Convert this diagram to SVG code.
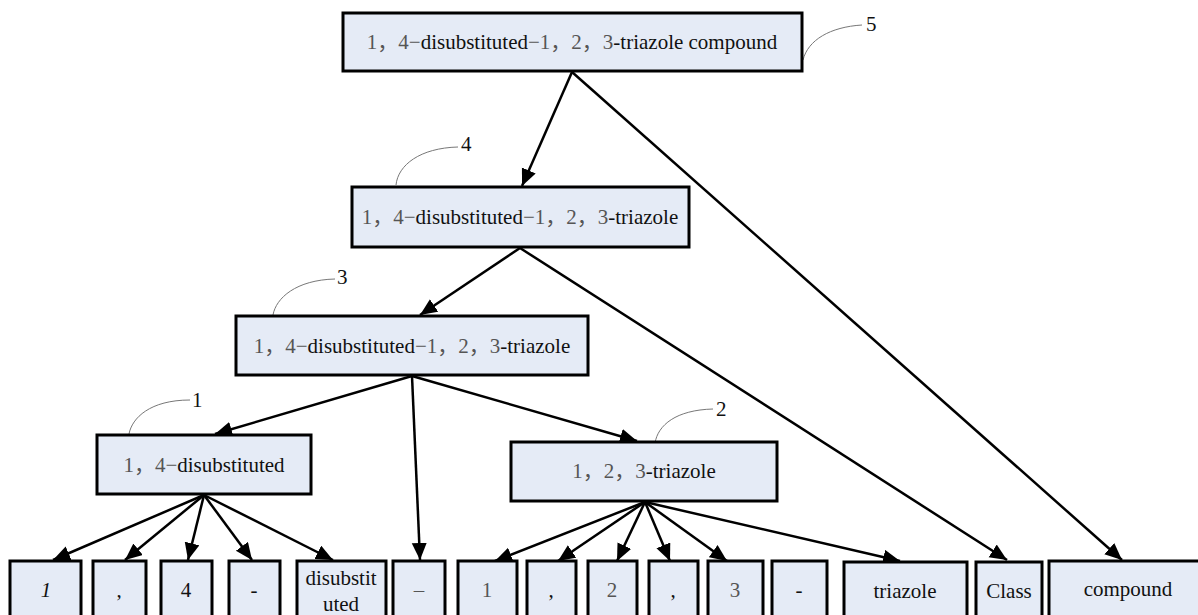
<svg xmlns="http://www.w3.org/2000/svg" width="1198" height="615" viewBox="0 0 1198 615">
<style>
.box{fill:#e5ebf6;stroke:#000;stroke-width:3}
.t{font-size:21px;fill:#111;text-anchor:middle}
.g{fill:#555}
.lbl{font-size:21px;fill:#111}
.lead{fill:none;stroke:#777;stroke-width:1}
.c{stroke:#000;stroke-width:2.5;fill:none;marker-end:url(#ah)}
</style>
<defs>
<marker id="ah" markerUnits="userSpaceOnUse" markerWidth="18" markerHeight="16" refX="17" refY="7.5" orient="auto">
<path d="M0,0 L17,7.5 L0,15 z" fill="#000"/>
</marker>
</defs>
<rect width="1198" height="615" fill="#fff"/>

<g id="connectors">
<line class="c" x1="572" y1="72" x2="522" y2="186"/>
<line class="c" x1="572" y1="72" x2="1122" y2="560"/>
<line class="c" x1="520" y1="248" x2="420" y2="315"/>
<line class="c" x1="520" y1="248" x2="1007" y2="560"/>
<line class="c" x1="412" y1="376" x2="215" y2="434"/>
<line class="c" x1="412" y1="376" x2="420" y2="560"/>
<line class="c" x1="412" y1="376" x2="637" y2="441"/>
<line class="c" x1="204" y1="495" x2="53" y2="560"/>
<line class="c" x1="204" y1="495" x2="125" y2="560"/>
<line class="c" x1="204" y1="495" x2="188" y2="560"/>
<line class="c" x1="204" y1="495" x2="252" y2="560"/>
<line class="c" x1="204" y1="495" x2="333" y2="560"/>
<line class="c" x1="645" y1="502" x2="495" y2="561"/>
<line class="c" x1="645" y1="502" x2="558" y2="561"/>
<line class="c" x1="645" y1="502" x2="617" y2="561"/>
<line class="c" x1="645" y1="502" x2="670" y2="561"/>
<line class="c" x1="645" y1="502" x2="727" y2="561"/>
<line class="c" x1="645" y1="502" x2="900" y2="561"/>
</g>

<g font-family="'Liberation Serif', 'Times New Roman', 'DejaVu Serif', 'Noto Sans CJK SC', serif">
<g id="leaders">
<path class="lead" d="M803 60 C808 40,830 27,862 25"/>
<path class="lead" d="M396 185 C398 165,420 148,458 147"/>
<path class="lead" d="M273 315 C276 298,296 280,335 279"/>
<path class="lead" d="M129 434 C132 418,150 400,190 400"/>
<path class="lead" d="M655 443 C658 425,676 410,713 409"/>
<text class="lbl" x="866" y="31">5</text>
<text class="lbl" x="461" y="151">4</text>
<text class="lbl" x="337" y="284">3</text>
<text class="lbl" x="192" y="407">1</text>
<text class="lbl" x="716" y="416">2</text>
</g>

<g id="n5">
<rect class="box" x="343" y="13" width="459" height="58"/>
<text class="t" x="572" y="49"><tspan class="g">1，4−</tspan>disubstituted<tspan class="g">−1，2，3</tspan>-triazole compound</text>
</g>
<g id="n4">
<rect class="box" x="352" y="187" width="337" height="60"/>
<text class="t" x="520" y="224"><tspan class="g">1，4−</tspan>disubstituted<tspan class="g">−1，2，3</tspan>-triazole</text>
</g>
<g id="n3">
<rect class="box" x="236" y="316" width="352" height="59"/>
<text class="t" x="412" y="353"><tspan class="g">1，4−</tspan>disubstituted<tspan class="g">−1，2，3</tspan>-triazole</text>
</g>
<g id="n1">
<rect class="box" x="97" y="435" width="214" height="59"/>
<text class="t" x="204" y="472"><tspan class="g">1，4−</tspan>disubstituted</text>
</g>
<g id="n2">
<rect class="box" x="511" y="442" width="266" height="59"/>
<text class="t" x="644" y="478"><tspan class="g">1，2，3</tspan>-triazole</text>
</g>

<g id="b1"><rect class="box" x="10" y="561" width="71" height="70"/><text class="t" x="46" y="597" font-style="italic">1</text></g>
<g id="b2"><rect class="box" x="93" y="561" width="53" height="70"/><text class="t" x="119" y="597">,</text></g>
<g id="b3"><rect class="box" x="161" y="561" width="51" height="70"/><text class="t" x="186" y="597">4</text></g>
<g id="b4"><rect class="box" x="229" y="561" width="51" height="70"/><text class="t" x="254" y="597">-</text></g>
<g id="b5"><rect class="box" x="297" y="561" width="89" height="70"/><text class="t" x="341" y="585">disubstit</text><text class="t" x="341" y="611">uted</text></g>
<g id="b6"><rect class="box" x="393" y="561" width="52" height="70"/><text class="t g" x="419" y="597">–</text></g>
<g id="b7"><rect class="box" x="458" y="561" width="59" height="70"/><text class="t g" x="487" y="597">1</text></g>
<g id="b8"><rect class="box" x="527" y="561" width="49" height="70"/><text class="t" x="551" y="597">,</text></g>
<g id="b9"><rect class="box" x="588" y="561" width="49" height="70"/><text class="t g" x="612" y="597">2</text></g>
<g id="b10"><rect class="box" x="649" y="561" width="49" height="70"/><text class="t" x="673" y="597">,</text></g>
<g id="b11"><rect class="box" x="708" y="561" width="55" height="70"/><text class="t g" x="735" y="597">3</text></g>
<g id="b12"><rect class="box" x="772" y="561" width="55" height="70"/><text class="t" x="799" y="597">-</text></g>
<g id="b13"><rect class="box" x="844" y="562" width="123" height="70"/><text class="t" x="905" y="598">triazole</text></g>
<g id="b14"><rect class="box" x="976" y="562" width="66" height="70"/><text class="t" x="1009" y="598">Class</text></g>
<g id="b15"><rect class="box" x="1049" y="561" width="160" height="70"/><text class="t" x="1128" y="596">compound</text></g>
</g>
</svg>
